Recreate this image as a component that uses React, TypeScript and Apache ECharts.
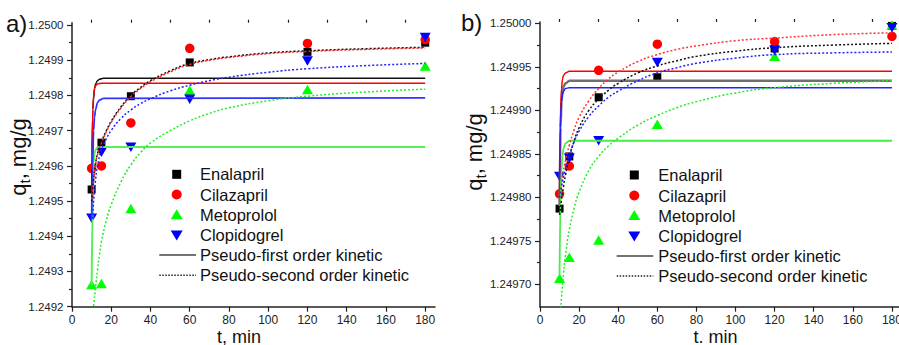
import React, { useEffect, useRef } from "react";
import * as echarts from "echarts";

// ---------- data ----------
const TIME = [10, 15, 30, 60, 120, 180];

// panel a) measured q_t, mg/g
const A_ENALAPRIL = [1.249533, 1.249666, 1.249798, 1.249894, 1.249924, 1.24995];
const A_CILAZAPRIL = [1.249593, 1.2496, 1.249722, 1.249934, 1.249948, 1.249959];
const A_METOPROLOL = [1.249263, 1.249266, 1.249479, 1.249815, 1.249817, 1.249884];
const A_CLOPIDOGREL = [1.249451, 1.249639, 1.249653, 1.249789, 1.249898, 1.249965];

// panel b) measured q_t, mg/g
const B_ENALAPRIL = [1.249787, 1.249847, 1.249915, 1.249938, 1.249971, 1.249997];
const B_CILAZAPRIL = [1.249804, 1.249836, 1.249946, 1.249976, 1.249979, 1.249985];
const B_METOPROLOL = [1.249707, 1.249731, 1.249751, 1.249884, 1.249962, 1.249998];
const B_CLOPIDOGREL = [1.249824, 1.249845, 1.249865, 1.249955, 1.249969, 1.249995];

// fitted curves: [t, q]
const A_PFO_ENALAPRIL = [[10, 1.24953], [10.6, 1.24976], [11, 1.24979], [11.5, 1.24982], [12, 1.249833], [13, 1.249842], [14, 1.249846], [16, 1.249849], [180, 1.249849]];
const A_PFO_CILAZAPRIL = [[10, 1.24959], [10.6, 1.24976], [11, 1.2498], [11.5, 1.24982], [12, 1.249828], [13, 1.249833], [15, 1.249835], [180, 1.249835]];
const A_PFO_METOPROLOL = [[10, 1.24926], [10.6, 1.2495], [11, 1.24961], [11.5, 1.249635], [12, 1.249646], [13, 1.249652], [15, 1.249654], [180, 1.249654]];
const A_PFO_CLOPIDOGREL = [[10, 1.24945], [10.5, 1.2496], [11, 1.2497], [11.5, 1.24974], [12, 1.24976], [13, 1.24978], [14, 1.249787], [16, 1.249792], [180, 1.249793]];

const A_PSO_ENALAPRIL = [[10, 1.2495], [11, 1.24956], [12, 1.249605], [13, 1.249635], [15, 1.249668], [17.5, 1.2497], [20, 1.249727], [25, 1.249768], [30, 1.2498], [35, 1.249823], [40, 1.249842], [50, 1.24987], [60, 1.249891], [70, 1.249902], [80, 1.24991], [100, 1.249921], [120, 1.249927], [150, 1.249933], [180, 1.249937]];
const A_PSO_CILAZAPRIL = [[10, 1.249505], [11, 1.249558], [12, 1.249602], [13, 1.249632], [15, 1.249665], [17.5, 1.249697], [20, 1.249724], [25, 1.249765], [30, 1.249797], [35, 1.24982], [40, 1.249839], [50, 1.249867], [60, 1.249888], [70, 1.2499], [80, 1.249908], [100, 1.249919], [120, 1.249925], [150, 1.249931], [180, 1.249935]];
const A_PSO_METOPROLOL = [[10.8, 1.24919], [11, 1.2492], [12, 1.249255], [13, 1.249305], [14, 1.249348], [15, 1.249385], [17.5, 1.249445], [20, 1.24949], [25, 1.249555], [30, 1.249603], [35, 1.249638], [40, 1.249665], [50, 1.2497], [60, 1.249728], [70, 1.249749], [80, 1.249765], [100, 1.249785], [120, 1.249798], [150, 1.24981], [180, 1.249818]];
const A_PSO_CLOPIDOGREL = [[10.5, 1.24945], [11, 1.2495], [12, 1.24956], [13, 1.2496], [15, 1.249645], [17.5, 1.249677], [20, 1.249701], [25, 1.249735], [30, 1.249759], [35, 1.249777], [40, 1.249791], [50, 1.249813], [60, 1.249829], [70, 1.249842], [80, 1.249852], [100, 1.249866], [120, 1.249876], [150, 1.249885], [180, 1.249891]];

const B_PFO_ENALAPRIL = [[10, 1.24979], [10.5, 1.24988], [11, 1.24991], [11.5, 1.249922], [12, 1.249927], [13, 1.249931], [15, 1.249934], [180, 1.249934]];
const B_PFO_CILAZAPRIL = [[10, 1.2498], [10.5, 1.2499], [11, 1.249925], [11.5, 1.249936], [12, 1.24994], [13, 1.249943], [15, 1.249945], [180, 1.249945]];
const B_PFO_METOPROLOL = [[10, 1.24971], [10.5, 1.2498], [11, 1.24983], [11.5, 1.249848], [12, 1.249856], [13, 1.249862], [15, 1.249865], [180, 1.249865]];
const B_PFO_CLOPIDOGREL = [[10, 1.24982], [10.5, 1.24989], [11, 1.24991], [11.5, 1.249918], [12, 1.249922], [13, 1.249925], [15, 1.249926], [180, 1.249926]];

const B_PSO_ENALAPRIL = [[10, 1.24978], [11, 1.249797], [12, 1.249812], [13, 1.249825], [15, 1.249846], [17.5, 1.249865], [20, 1.24988], [25, 1.2499], [30, 1.249913], [35, 1.249923], [40, 1.249931], [50, 1.249943], [60, 1.249951], [70, 1.249957], [80, 1.249962], [100, 1.249968], [120, 1.249972], [150, 1.249975], [180, 1.249977]];
const B_PSO_CILAZAPRIL = [[10, 1.2498], [11, 1.249815], [12, 1.24983], [13, 1.249842], [15, 1.24986], [17.5, 1.249878], [20, 1.249892], [25, 1.249911], [30, 1.249925], [35, 1.249936], [40, 1.249944], [50, 1.249956], [60, 1.249964], [70, 1.24997], [80, 1.249974], [100, 1.24998], [120, 1.249983], [150, 1.249987], [180, 1.249989]];
const B_PSO_METOPROLOL = [[10.6, 1.249672], [11, 1.249685], [12, 1.249712], [13, 1.249733], [15, 1.249763], [17.5, 1.249788], [20, 1.249806], [25, 1.249831], [30, 1.249847], [35, 1.249859], [40, 1.249868], [50, 1.249883], [60, 1.249894], [70, 1.249903], [80, 1.24991], [100, 1.24992], [120, 1.249926], [150, 1.249931], [180, 1.249934]];
const B_PSO_CLOPIDOGREL = [[10, 1.2498], [11, 1.249812], [12, 1.249823], [13, 1.249832], [15, 1.249848], [17.5, 1.249864], [20, 1.249876], [25, 1.249893], [30, 1.249905], [35, 1.249915], [40, 1.249922], [50, 1.249934], [60, 1.249943], [70, 1.249949], [80, 1.249954], [100, 1.24996], [120, 1.249964], [150, 1.249966], [180, 1.249967]];

// axis ticks
const X_MAJOR = [0, 20, 40, 60, 80, 100, 120, 140, 160, 180];
const X_MINOR = [10, 30, 50, 70, 90, 110, 130, 150, 170];
const A_Y_MAJOR = [1.2492, 1.2493, 1.2494, 1.2495, 1.2496, 1.2497, 1.2498, 1.2499, 1.25];
const A_Y_MINOR = [1.24925, 1.24935, 1.24945, 1.24955, 1.24965, 1.24975, 1.24985, 1.24995];
const B_Y_MAJOR = [1.2497, 1.24975, 1.2498, 1.24985, 1.2499, 1.24995, 1.25];
const B_Y_MINOR = [1.249725, 1.249775, 1.249825, 1.249875, 1.249925, 1.249975];

const NAMES = ["Enalapril", "Cilazapril", "Metoprolol", "Clopidogrel"];
const LEGEND_LINES = ["Pseudo-first order kinetic", "Pseudo-second order kinetic"];

const FONT = "'Liberation Sans', Arial, Helvetica, sans-serif";
const COLORS = ["#000000", "#ff0000", "#00ff00", "#0000ff"];
const SYMBOLS = ["rect", "circle", "triangle", "triangle"];
const SIZES: any[] = [8, 9.5, [11, 9.5], [11, 9.5]];
const ROT = [0, 0, 0, 180];

function xAxes(gridIndex: number, max: number) {
  return [
    {
      type: "value", gridIndex, min: 0, max,
      axisLine: { show: true, lineStyle: { color: "#222", width: 1.5 } },
      axisTick: { show: true, inside: false, length: 5, customValues: X_MAJOR, lineStyle: { color: "#222", width: 1.2 } },
      axisLabel: { show: true, customValues: X_MAJOR, margin: 7.5, fontSize: 12, fontFamily: FONT, color: "#222" },
      splitLine: { show: false },
    },
    {
      type: "value", gridIndex, min: 0, max,
      axisLine: { show: false },
      axisTick: { show: true, inside: false, length: 3, customValues: X_MINOR, lineStyle: { color: "#222", width: 1.2 } },
      axisLabel: { show: false },
      splitLine: { show: false },
    },
  ];
}

function yAxes(gridIndex: number, min: number, max: number, major: number[], minor: number[], digits: number) {
  return [
    {
      type: "value", gridIndex, min, max, position: "left",
      axisLine: { show: true, lineStyle: { color: "#222", width: 1.5 } },
      axisTick: { show: true, inside: false, length: 5, customValues: major, lineStyle: { color: "#222", width: 1.2 } },
      axisLabel: {
        show: true, customValues: major, margin: 8.5, fontSize: 11.5, fontFamily: FONT, color: "#222",
        formatter: (v: number) => v.toFixed(digits),
      },
      splitLine: { show: false },
    },
    {
      type: "value", gridIndex, min, max, position: "left",
      axisLine: { show: false },
      axisTick: { show: true, inside: false, length: 3, customValues: minor, lineStyle: { color: "#222", width: 1.2 } },
      axisLabel: { show: false },
      splitLine: { show: false },
    },
  ];
}

function scatterSeries(axisIndex: number, sets: number[][]) {
  return sets.map((vals, i) => ({
    type: "scatter",
    name: NAMES[i],
    xAxisIndex: axisIndex, yAxisIndex: axisIndex,
    symbol: SYMBOLS[i], symbolSize: SIZES[i], symbolRotate: ROT[i],
    itemStyle: { color: COLORS[i], opacity: 1 },
    data: TIME.map((t, k) => [t, vals[k]]),
    z: 2,
  }));
}

function lineSeries(axisIndex: number, sets: number[][][], dotted: boolean, colors: string[], widths: number[]) {
  return sets.map((pts, i) => ({
    type: "line",
    xAxisIndex: axisIndex, yAxisIndex: axisIndex,
    showSymbol: false, symbol: "none",
    smooth: dotted ? 0.5 : 0.3,
    smoothMonotone: dotted ? undefined : "x",
    clip: true,
    lineStyle: { color: colors[i], width: widths[i], type: dotted ? [2, 2] : "solid" },
    data: pts,
    z: 3,
  }));
}

function legendGraphics(lineX0: number, lineX1: number, markX: number, textX: number, rows: number[]) {
  const g: any[] = [];
  const ts = 16.5;
  g.push({ type: "rect", shape: { x: markX - 4.5, y: rows[0] - 4.5, width: 9, height: 9 }, style: { fill: "#000" } });
  g.push({ type: "circle", shape: { cx: markX, cy: rows[1], r: 5 }, style: { fill: "#ff0000" } });
  g.push({ type: "polygon", shape: { points: [[markX, rows[2] - 5.5], [markX - 6, rows[2] + 4.5], [markX + 6, rows[2] + 4.5]] }, style: { fill: "#00ff00" } });
  g.push({ type: "polygon", shape: { points: [[markX, rows[3] + 5.5], [markX - 6, rows[3] - 4.5], [markX + 6, rows[3] - 4.5]] }, style: { fill: "#0000ff" } });
  g.push({ type: "line", shape: { x1: lineX0, y1: rows[4], x2: lineX1, y2: rows[4] }, style: { stroke: "#444", lineWidth: 1.6 } });
  g.push({ type: "line", shape: { x1: lineX0, y1: rows[5], x2: lineX1, y2: rows[5] }, style: { stroke: "#222", lineWidth: 1.4, lineDash: [1.5, 1.5] } });
  const labels = [...NAMES, ...LEGEND_LINES];
  labels.forEach((t, i) => {
    g.push({
      type: "text", x: textX, y: rows[i],
      style: { text: t, fontSize: ts, fontFamily: FONT, fill: "#111", align: "left", verticalAlign: "middle" },
    });
  });
  return g;
}

function yTitle(cx: number, cy: number) {
  const fs = 22;
  const total = 77.5;
  const x0 = -total / 2;
  return {
    type: "group", x: cx, y: cy, rotation: Math.PI / 2,
    children: [
      { type: "text", x: x0, y: 0, style: { text: "q", fontSize: fs, fontFamily: FONT, fill: "#111", align: "left", verticalAlign: "middle" } },
      { type: "text", x: x0 + 12.2, y: 6, style: { text: "t", fontSize: 15, fontFamily: FONT, fill: "#111", align: "left", verticalAlign: "middle" } },
      { type: "text", x: x0 + 16.4, y: 0, style: { text: ", mg/g", fontSize: fs, fontFamily: FONT, fill: "#111", align: "left", verticalAlign: "middle" } },
    ],
  };
}

export default function App() {
  const ref = useRef<HTMLDivElement>(null);
  useEffect(() => {
    if (!ref.current) return;
    const chart = echarts.init(ref.current, undefined, { renderer: "svg" });
    const option: any = {
      animation: false,
      backgroundColor: "#ffffff",
      grid: [
        { left: 72, top: 22.7, width: 363, height: 284, outerBoundsMode: "none", containLabel: false },
        { left: 540, top: 22, width: 359, height: 284.7, outerBoundsMode: "none", containLabel: false },
      ],
      xAxis: [...xAxes(0, 185), ...xAxes(1, 183.6)],
      yAxis: [
        ...yAxes(0, 1.2492, 1.2500068, A_Y_MAJOR, A_Y_MINOR, 4),
        ...yAxes(1, 1.2496743, 1.2500015, B_Y_MAJOR, B_Y_MINOR, 5),
      ],
      series: [
        ...scatterSeries(0, [A_ENALAPRIL, A_CILAZAPRIL, A_METOPROLOL, A_CLOPIDOGREL]),
        ...lineSeries(0, [A_PFO_ENALAPRIL, A_PFO_CILAZAPRIL, A_PFO_METOPROLOL, A_PFO_CLOPIDOGREL], false, ["#111", "#ff0000", "#55f055", "#3333ff"], [1.5, 1.5, 2, 1.8]),
        ...lineSeries(0, [A_PSO_ENALAPRIL, A_PSO_CILAZAPRIL, A_PSO_METOPROLOL, A_PSO_CLOPIDOGREL], true, ["#111", "#ff2222", "#22ee22", "#2222ff"], [1.5, 1.5, 1.5, 1.5]),
        ...scatterSeries(2, [B_ENALAPRIL, B_CILAZAPRIL, B_METOPROLOL, B_CLOPIDOGREL]),
        ...lineSeries(2, [B_PFO_ENALAPRIL, B_PFO_CILAZAPRIL, B_PFO_METOPROLOL, B_PFO_CLOPIDOGREL], false, ["#707070", "#ff0000", "#44ee44", "#2222ff"], [2.5, 1.5, 1.8, 1.5]),
        ...lineSeries(2, [B_PSO_ENALAPRIL, B_PSO_CILAZAPRIL, B_PSO_METOPROLOL, B_PSO_CLOPIDOGREL], true, ["#111", "#ff3333", "#22ee22", "#2222ff"], [1.5, 1.5, 1.5, 1.5]),
      ],
      graphic: [
        { type: "text", x: 6, y: 23, style: { text: "a)", fontSize: 24, fontFamily: FONT, fill: "#111", align: "left", verticalAlign: "middle" } },
        { type: "text", x: 461, y: 22, style: { text: "b)", fontSize: 24, fontFamily: FONT, fill: "#111", align: "left", verticalAlign: "middle" } },
        yTitle(18, 157),
        yTitle(474, 152),
        { type: "text", x: 239, y: 336.5, style: { text: "t, min", fontSize: 18, fontFamily: FONT, fill: "#111", align: "center", verticalAlign: "middle" } },
        { type: "text", x: 715.5, y: 336.5, style: { text: "t. min", fontSize: 18, fontFamily: FONT, fill: "#111", align: "center", verticalAlign: "middle" } },
        ...legendGraphics(159.3, 196, 176.7, 200, [174.3, 194.5, 214.7, 235, 255, 275.3]),
        ...legendGraphics(616.7, 653.3, 634.3, 658.3, [175, 195.5, 215.5, 236, 256, 276]),
      ],
    };
    chart.setOption(option);
    return () => chart.dispose();
  }, []);
  return <div ref={ref} style={{ position: "fixed", left: 0, top: 0, width: 899, height: 345, background: "#fff" }} />;
}
